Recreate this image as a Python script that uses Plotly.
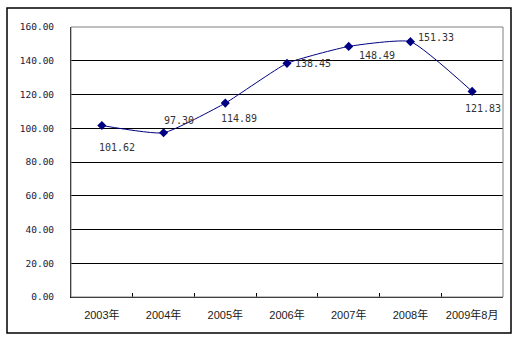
import plotly.graph_objects as go

# Annual index values
years = ["2003年", "2004年", "2005年", "2006年", "2007年", "2008年", "2009年8月"]
values = [101.62, 97.30, 114.89, 138.45, 148.49, 151.33, 121.83]
y_ticks = [0, 20, 40, 60, 80, 100, 120, 140, 160]

# Pixel offsets for each value label (dx, dy), positive dy moves up
label_offsets = [(15, -22), (15, 12), (14, -15), (26, 0), (28, -9), (26, 4), (11, -17)]

navy = "#000080"

fig = go.Figure()
fig.add_trace(go.Scatter(
    x=years, y=values,
    mode="lines+markers",
    line=dict(color=navy, width=1, shape="spline", smoothing=0.45),
    marker=dict(symbol="diamond", size=7, color=navy),
    hoverinfo="skip",
    showlegend=False,
))

for yr, v, (dx, dy) in zip(years, values, label_offsets):
    fig.add_annotation(
        x=yr, y=v, text=f"{v:.2f}", showarrow=False,
        xshift=dx, yshift=dy,
        font=dict(family="DejaVu Sans Mono", size=10, color="#333333"),
    )

# Outer chart frame
fig.add_shape(type="rect", xref="paper", yref="paper",
              x0=-64 / 432, x1=440 / 432, y0=-36 / 270, y1=289 / 270,
              line=dict(color="black", width=1.5), layer="below")
# Plot area border (top and right in grey)
fig.add_shape(type="rect", xref="paper", yref="paper",
              x0=0, x1=1, y0=0, y1=1,
              line=dict(color="#808080", width=1), layer="above")

fig.update_layout(
    width=519, height=338,
    margin=dict(l=71, r=16, t=27, b=41),
    paper_bgcolor="white", plot_bgcolor="white",
    xaxis=dict(
        type="category", range=[-0.5, 6.5],
        tickson="boundaries", ticks="inside", ticklen=4, tickcolor="black",
        showline=True, linecolor="black", linewidth=1,
        showgrid=False, zeroline=False, ticklabelstandoff=8,
        tickfont=dict(family="Liberation Sans, Noto Sans CJK SC", size=11, color="#1a1a1a"),
    ),
    yaxis=dict(
        range=[0, 160], tickvals=y_ticks,
        ticktext=[f"{t:.2f}" for t in y_ticks],
        showline=True, linecolor="black", linewidth=1,
        showgrid=True, gridcolor="black", gridwidth=1,
        zeroline=False, ticks="", ticklabelstandoff=14,
        tickfont=dict(family="DejaVu Sans Mono", size=9.5, color="#1a1a3a"),
    ),
)

fig.write_html("out.html")
